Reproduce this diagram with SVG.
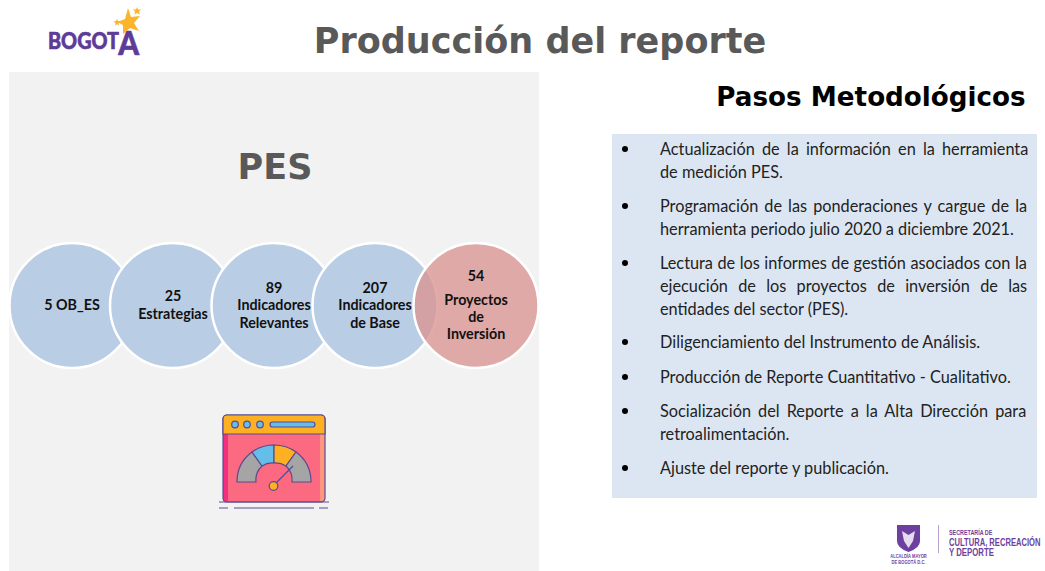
<svg xmlns="http://www.w3.org/2000/svg" width="1045" height="571" viewBox="0 0 1045 571">
<style>
.t{font-family:"DejaVu Sans",sans-serif;font-weight:700}
.c{font-family:Lato,"Liberation Sans",sans-serif;font-weight:700;font-size:14.300px;fill:#111;text-anchor:middle}
.b{font-family:Lato,"Liberation Sans",sans-serif;font-size:16.300px;fill:#222}
.circ{fill:#b9cde5;stroke:#fff;stroke-width:2.5}
.ic{stroke:#5b4a8f;stroke-width:1.2}
</style>
<rect width="1045" height="571" fill="#fff"/>
<rect x="9" y="72" width="530" height="499" fill="#f2f2f2"/>
<text class="t" x="540" y="53" font-size="35" fill="#595959" text-anchor="middle">Producción del reporte</text>
<text class="t" x="275" y="179" font-size="35" fill="#595959" text-anchor="middle">PES</text>
<text class="t" x="871" y="106" font-size="26.200" fill="#000" text-anchor="middle">Pasos Metodológicos</text>
<g id="logo-bogota">
<text transform="translate(48,49) scale(.9,1)" font-family="Lato,sans-serif" font-weight="900" font-size="22" fill="#5f3b97" stroke="#5f3b97" stroke-width=".6">BOGOT<tspan x="78" y="6" font-size="33">A</tspan></text>
<path d="M128 8l3 9 9-1-6 7 5 8-9-3-7 6 0-9-6-3 8-3z" fill="#fbb42c"/>
<path d="M137 7l1 2.500 3 0-2 2 1 3-3-1.500-2.500 1.500 .5-3-2-2 3 0z" fill="#fbb42c"/>
<path d="M117 19l1 2 2.500 .5-2 1.500 .5 2.500-2-1.200-2 1.200 .5-2.500-2-1.500 2.500-.5z" fill="#fbb42c"/>
</g>
<g id="connectors"></g>
<g id="node-ob"><circle class="circ" cx="72" cy="305.500" r="62.500"/><text class="c" x="72" y="310">5 OB_ES</text></g>
<g id="node-estrategias"><circle class="circ" cx="172.500" cy="305.500" r="62.500"/><text class="c" x="173" y="301">25</text><text class="c" x="173" y="319">Estrategias</text></g>
<g id="node-relevantes"><circle class="circ" cx="274" cy="305.500" r="62.500"/><text class="c" x="274" y="293">89</text><text class="c" x="274" y="310">Indicadores</text><text class="c" x="274" y="328">Relevantes</text></g>
<g id="node-base"><circle class="circ" cx="375" cy="305.500" r="62.500"/><text class="c" x="375" y="293">207</text><text class="c" x="375" y="310">Indicadores</text><text class="c" x="375" y="328">de Base</text></g>
<g id="node-proyectos"><circle cx="476" cy="305.500" r="62.500" fill="#d99694" fill-opacity=".8" stroke="#fff" stroke-width="2.500"/><text class="c" x="476" y="281">54</text><text class="c" x="476" y="305">Proyectos</text><text class="c" x="476" y="322">de</text><text class="c" x="476" y="339">Inversión</text></g>
<g id="icon-gauge">
<rect x="223" y="415" width="102" height="87" rx="4" fill="#fb6a80"/>
<path d="M223 501v-67h5v67z" fill="#f52f7f"/>
<path d="M320 501v-67h5v67z" fill="#ff967e"/>
<rect x="223" y="415" width="102" height="87" rx="4" fill="none" class="ic"/>
<path d="M223 434v-15a4 4 0 0 1 4-4h94a4 4 0 0 1 4 4v15z" fill="#fdb122" class="ic"/>
<circle cx="235" cy="424.500" r="3.300" fill="#65bde9" class="ic"/><circle cx="247" cy="424.500" r="3.300" fill="#65bde9" class="ic"/><circle cx="260" cy="424.500" r="3.300" fill="#65bde9" class="ic"/>
<rect x="270" y="422" width="45" height="5" rx="2.500" fill="#65bde9" class="ic"/>
<path d="M237 482a37 37 0 0 1 15-30l10 14a19 19 0 0 0-6 16z" fill="#a5a5a5" class="ic"/>
<path d="M252 452a37 37 0 0 1 22-7v18a19 19 0 0 0-12 3z" fill="#65bde9" class="ic"/>
<path d="M274 445a37 37 0 0 1 22 7l-10 14a19 19 0 0 0-12-3z" fill="#fdb122" class="ic"/>
<path d="M296 452a37 37 0 0 1 15 30h-19a19 19 0 0 0-6-16z" fill="#a5a5a5" class="ic"/>
<path d="M274 485l19-19" fill="none" class="ic"/>
<circle cx="273.500" cy="486" r="4.300" fill="#fdb122" class="ic"/>
<path d="M219 502h110M219 508h9M234 508h80M319 508h9" fill="none" class="ic"/>
</g>
<g id="pasos">
<rect x="612" y="134" width="425" height="364" fill="#dce6f2"/>
<g fill="#000"><circle cx="625" cy="149" r="3"/><circle cx="625" cy="206" r="3"/><circle cx="625" cy="263" r="3"/><circle cx="625" cy="342" r="3"/><circle cx="625" cy="377" r="3"/><circle cx="625" cy="411" r="3"/><circle cx="625" cy="468" r="3"/></g>
<text class="b" x="660" y="155" word-spacing="3">Actualización de la información en la herramienta</text>
<text class="b" x="660" y="178">de medición PES.</text>
<text class="b" x="660" y="212" word-spacing="1.900">Programación de las ponderaciones y cargue de la</text>
<text class="b" x="660" y="235">herramienta periodo julio 2020 a diciembre 2021.</text>
<text class="b" x="660" y="269" word-spacing=".35">Lectura de los informes de gestión asociados con la</text>
<text class="b" x="660" y="292" word-spacing="6.100">ejecución de los proyectos de inversión de las</text>
<text class="b" x="660" y="315">entidades del sector (PES).</text>
<text class="b" x="660" y="348">Diligenciamiento del Instrumento de Análisis.</text>
<text class="b" x="660" y="383">Producción de Reporte Cuantitativo - Cualitativo.</text>
<text class="b" x="660" y="417" word-spacing="2.900">Socialización del Reporte a la Alta Dirección para</text>
<text class="b" x="660" y="440">retroalimentación.</text>
<text class="b" x="660" y="474">Ajuste del reporte y publicación.</text>
</g>
<g id="logo-secretaria">
<path d="M897 525h23v16q0 7-11.500 11q-11.500-4-11.500-11z" fill="#6d3f9e"/>
<path d="M902 531l6.500 4 6.500-4-2 10-4.500 7-4.500-7z" fill="#e6dcf0"/>
<path d="M938.500 525v28" stroke="#b9a3d3" stroke-width="1"/>
<g font-family="'Liberation Sans',sans-serif" fill="#6d3f9e" font-weight="700">
<text x="0" y="0" transform="translate(908.500,558) scale(.85,1)" font-size="4.800" text-anchor="middle">ALCALDÍA MAYOR</text>
<text x="0" y="0" transform="translate(908.500,563.500) scale(.85,1)" font-size="4.800" text-anchor="middle">DE BOGOTÁ D.C.</text>
<text x="0" y="0" transform="translate(949,535) scale(.77,1)" font-size="7">SECRETARÍA DE</text>
<text x="0" y="0" transform="translate(949,545.500) scale(.76,1)" font-size="10">CULTURA, RECREACIÓN</text>
<text x="0" y="0" transform="translate(949,556) scale(.78,1)" font-size="10">Y DEPORTE</text>
</g>
</g>
</svg>
